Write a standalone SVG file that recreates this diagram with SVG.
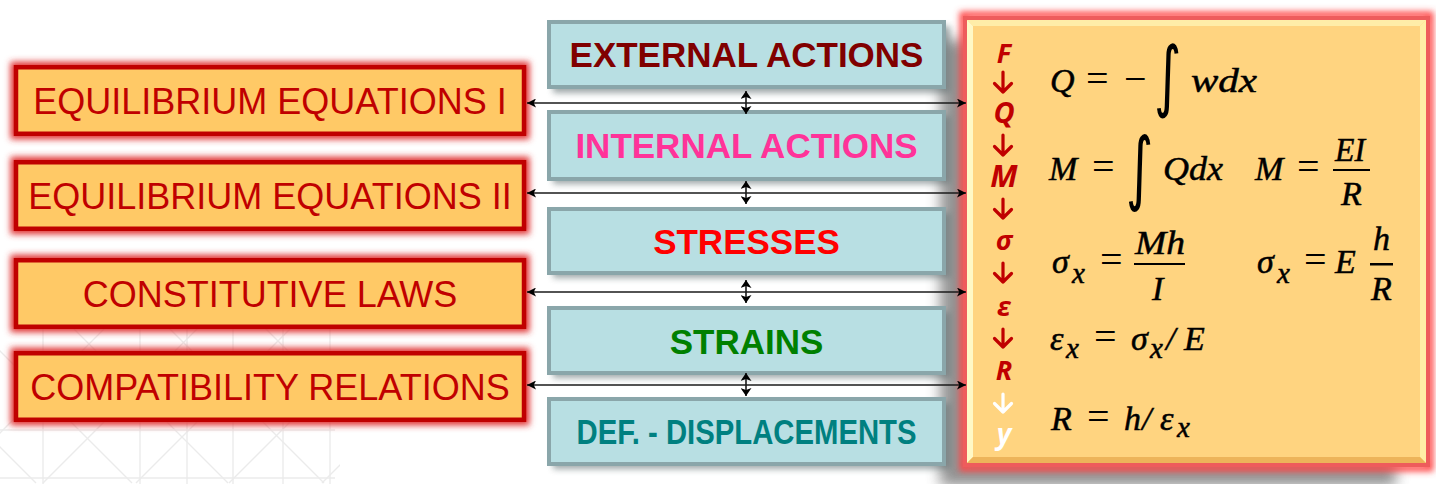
<svg xmlns="http://www.w3.org/2000/svg" width="1436" height="484" viewBox="0 0 1436 484">
<defs>
<style>
.lbox{fill:#FFC966;stroke:#C00000;stroke-width:4.5}
.lglow{fill:none;stroke:#E03535;stroke-width:11}
.ltxt{font-family:"Liberation Sans",Arial,sans-serif;font-size:36px;fill:#C00000;text-anchor:middle}
.mbox{fill:#B8DFE3;stroke:#8AA6AA;stroke-width:4}
.mshadow{fill:#5E6E70;opacity:.6}
.mtxt{font-family:"Liberation Sans",Arial,sans-serif;font-size:35px;font-weight:bold;text-anchor:middle}
.conn{stroke:#1a1a1a;stroke-width:1.6;fill:none}
.math{font-family:"Liberation Serif","Times New Roman",serif;font-style:italic;font-size:34px;fill:#000;stroke:#000;stroke-width:0.5}
.op{font-family:"Liberation Serif","Times New Roman",serif;font-size:40px;fill:#000}
.sub{font-size:29px}
.intg{font-family:"DejaVu Sans",sans-serif;font-size:70px;fill:#000}
.var{font-family:"Open Sans","Liberation Sans",sans-serif;font-weight:bold;font-style:italic;fill:#C00000;text-anchor:middle}
.white{fill:#FFFFFF}
.darr{stroke:#C00000;stroke-width:3.2;fill:none;stroke-linecap:round;stroke-linejoin:round}
.darrw{stroke:#FFFFFF}
.lat{stroke:#EBEBEB;stroke-width:1.4;fill:none}
</style>
<filter id="blur3" x="-10%" y="-30%" width="120%" height="160%"><feGaussianBlur stdDeviation="3"/></filter>
<filter id="blur8" x="-20%" y="-20%" width="140%" height="140%"><feGaussianBlur stdDeviation="7"/></filter>
<marker id="ah" viewBox="0 0 10 10" refX="10" refY="5" markerWidth="9" markerHeight="9" markerUnits="userSpaceOnUse" orient="auto-start-reverse"><path d="M0,0 L10,5 L0,10 L2.5,5 z" fill="#000"/></marker>
<marker id="ahv" viewBox="0 0 10 10" refX="10" refY="5" markerWidth="8" markerHeight="11" markerUnits="userSpaceOnUse" orient="auto-start-reverse" preserveAspectRatio="none"><path d="M0,0 L10,5 L0,10 L2.5,5 z" fill="#000"/></marker>
<clipPath id="latclip"><rect x="0" y="300" width="340" height="184"/></clipPath>
</defs>
<rect width="1436" height="484" fill="#FFFFFF"/>
<g id="background-lattice" clip-path="url(#latclip)">
<path class="lat" d="M43,300V484M140,300V484M187,300V484M233,300V484M283,300V484M330,300V484M0,478H335M0,430H335"/>
<path class="lat" d="M133,300L-50,483M226,300L43,483M319,300L136,483M412,300L229,483M505,300L322,483"/>
<path class="lat" d="M-147,300L36,483M-51,300L132,483M45,300L228,483M141,300L324,483M237,300L420,483"/>
</g>

<g id="eq1">
<rect class="lglow" x="16" y="67.25" width="508" height="66.5" filter="url(#blur3)"/>
<rect class="lbox" x="16" y="67.25" width="508" height="66.5"/>
<text class="ltxt" x="270" y="113.5">EQUILIBRIUM EQUATIONS I</text>
</g>
<g id="eq2">
<rect class="lglow" x="16" y="162.25" width="508" height="66.5" filter="url(#blur3)"/>
<rect class="lbox" x="16" y="162.25" width="508" height="66.5"/>
<text class="ltxt" x="270" y="208.5">EQUILIBRIUM EQUATIONS II</text>
</g>
<g id="constitutive">
<rect class="lglow" x="16" y="260.25" width="508" height="66.5" filter="url(#blur3)"/>
<rect class="lbox" x="16" y="260.25" width="508" height="66.5"/>
<text class="ltxt" x="270" y="306.5">CONSTITUTIVE LAWS</text>
</g>
<g id="compatibility">
<rect class="lglow" x="16" y="353.25" width="508" height="66.5" filter="url(#blur3)"/>
<rect class="lbox" x="16" y="353.25" width="508" height="66.5"/>
<text class="ltxt" x="270" y="399.5">COMPATIBILITY RELATIONS</text>
</g>

<g id="panel-shadow">
<rect x="940" y="40" width="456" height="446" fill="#808080" opacity="0.85" filter="url(#blur8)"/>
</g>

<g id="external">
<rect class="mshadow" x="553" y="26" width="397" height="67" filter="url(#blur3)"/>
<rect class="mbox" x="549" y="22" width="395" height="65"/>
<text class="mtxt" x="746.5" y="67" fill="#800000">EXTERNAL ACTIONS</text>
</g>
<g id="internal">
<rect class="mshadow" x="553" y="116" width="397" height="68" filter="url(#blur3)"/>
<rect class="mbox" x="549" y="112" width="395" height="67"/>
<text class="mtxt" x="746.5" y="158" fill="#FF3399">INTERNAL ACTIONS</text>
</g>
<g id="stresses">
<rect class="mshadow" x="553" y="213" width="397" height="65" filter="url(#blur3)"/>
<rect class="mbox" x="549" y="209" width="395" height="64"/>
<text class="mtxt" x="746.5" y="254" fill="#FF0000">STRESSES</text>
</g>
<g id="strains">
<rect class="mshadow" x="553" y="312" width="397" height="66" filter="url(#blur3)"/>
<rect class="mbox" x="549" y="308" width="395" height="65"/>
<text class="mtxt" x="746.5" y="354" fill="#008000">STRAINS</text>
</g>
<g id="displacements">
<rect class="mshadow" x="553" y="403" width="397" height="66" filter="url(#blur3)"/>
<rect class="mbox" x="549" y="399" width="395" height="65"/>
<text class="mtxt" x="746.5" y="444" fill="#008080" textLength="340" lengthAdjust="spacingAndGlyphs">DEF. - DISPLACEMENTS</text>
</g>

<g id="formula-panel">
<rect x="963" y="15" width="467" height="453" fill="none" stroke="#FF4A4A" stroke-width="7" filter="url(#blur3)"/>
<rect x="965" y="18" width="463" height="447" fill="#FFD480" stroke="#EE5C5C" stroke-width="4"/>
<polygon points="967,20 1426,20 1420,26 973,26" fill="#FFEDA8"/>
<polygon points="967,20 973,26 973,457 967,463" fill="#FFF8C6"/>
<polygon points="1426,20 1426,463 1420,457 1420,26" fill="#FFEEA6"/>
<polygon points="967,463 1426,463 1420,457 973,457" fill="#EDB45A"/>
<g id="sequence">
<text class="var" x="1004" y="63" font-size="27">F</text>
<path class="darr" d="M1003,72V92M994.5,83.5L1003,92L1011.5,83.5"/>
<text class="var" x="1004" y="123" font-size="29">Q</text>
<path class="darr" d="M1003,135V155M994.5,146.5L1003,155L1011.5,146.5"/>
<text class="var" x="1004" y="187" font-size="31">M</text>
<path class="darr" d="M1003,199V218M994.5,209.5L1003,218L1011.5,209.5"/>
<text class="var" x="1004" y="250" font-size="27">σ</text>
<path class="darr" d="M1003,263V282M994.5,273.5L1003,282L1011.5,273.5"/>
<text class="var" x="1004" y="316" font-size="27">ε</text>
<path class="darr" d="M1003,329V347M994.5,338.5L1003,347L1011.5,338.5"/>
<text class="var" x="1004" y="380" font-size="27">R</text>
<path class="darr darrw" d="M1003,394V412M994.5,403.5L1003,412L1011.5,403.5"/>
<text class="var white" x="1004" y="444" font-size="28">y</text>
</g>
<g id="formulas">
<text class="math" x="1050" y="92">Q</text>
<text class="op" x="1086" y="92">=</text>
<text class="op" x="1124" y="92">−</text>
<text class="intg" transform="translate(1154,102) scale(0.75,1.11)">∫</text>
<text class="math" x="1191" y="92" textLength="66" lengthAdjust="spacingAndGlyphs">wdx</text>

<text class="math" x="1049" y="180">M</text>
<text class="op" x="1092" y="180">=</text>
<text class="intg" transform="translate(1126,195) scale(0.75,1.15)">∫</text>
<text class="math" x="1163" y="180" textLength="60" lengthAdjust="spacingAndGlyphs">Qdx</text>
<text class="math" x="1255" y="180">M</text>
<text class="op" x="1297" y="180">=</text>
<rect x="1333" y="169" width="37" height="2" fill="#000"/>
<text class="math" x="1335" y="161" textLength="30" lengthAdjust="spacingAndGlyphs">EI</text>
<text class="math" x="1341" y="205">R</text>

<text class="math" x="1052" y="273">σ</text>
<text class="math sub" x="1072" y="283">x</text>
<text class="op" x="1100" y="273">=</text>
<rect x="1134" y="263" width="51" height="2" fill="#000"/>
<text class="math" x="1135" y="254" textLength="50" lengthAdjust="spacingAndGlyphs">Mh</text>
<text class="math" x="1152" y="300">I</text>
<text class="math" x="1257" y="273">σ</text>
<text class="math sub" x="1277" y="283">x</text>
<text class="op" x="1304" y="273">=</text>
<text class="math" x="1335" y="273">E</text>
<rect x="1370" y="263" width="23" height="2.5" fill="#000"/>
<text class="math" x="1373" y="250">h</text>
<text class="math" x="1371" y="300">R</text>

<text class="math" x="1050" y="350">ε</text>
<text class="math sub" x="1066" y="358">x</text>
<text class="op" x="1094" y="350">=</text>
<text class="math" x="1131" y="350">σ</text>
<text class="math sub" x="1150" y="358">x</text>
<text class="math" x="1166" y="350">/</text>
<text class="math" x="1184" y="350">E</text>

<text class="math" x="1051" y="430">R</text>
<text class="op" x="1087" y="430">=</text>
<text class="math" x="1124" y="430">h</text>
<text class="math" x="1142" y="430">/</text>
<text class="math" x="1160" y="430">ε</text>
<text class="math sub" x="1177" y="437">x</text>
</g>
</g>

<g id="connectors">
<line class="conn" x1="527" y1="103" x2="966" y2="103" marker-start="url(#ah)" marker-end="url(#ah)"/>
<line class="conn" x1="527" y1="193" x2="966" y2="193" marker-start="url(#ah)" marker-end="url(#ah)"/>
<line class="conn" x1="527" y1="292" x2="966" y2="292" marker-start="url(#ah)" marker-end="url(#ah)"/>
<line class="conn" x1="527" y1="385" x2="966" y2="385" marker-start="url(#ah)" marker-end="url(#ah)"/>
<line class="conn" x1="746" y1="91" x2="746" y2="114" stroke-width="2" marker-start="url(#ahv)" marker-end="url(#ahv)"/>
<line class="conn" x1="746" y1="181" x2="746" y2="204" stroke-width="2" marker-start="url(#ahv)" marker-end="url(#ahv)"/>
<line class="conn" x1="746" y1="280" x2="746" y2="303" stroke-width="2" marker-start="url(#ahv)" marker-end="url(#ahv)"/>
<line class="conn" x1="746" y1="373" x2="746" y2="396" stroke-width="2" marker-start="url(#ahv)" marker-end="url(#ahv)"/>
</g>
</svg>
